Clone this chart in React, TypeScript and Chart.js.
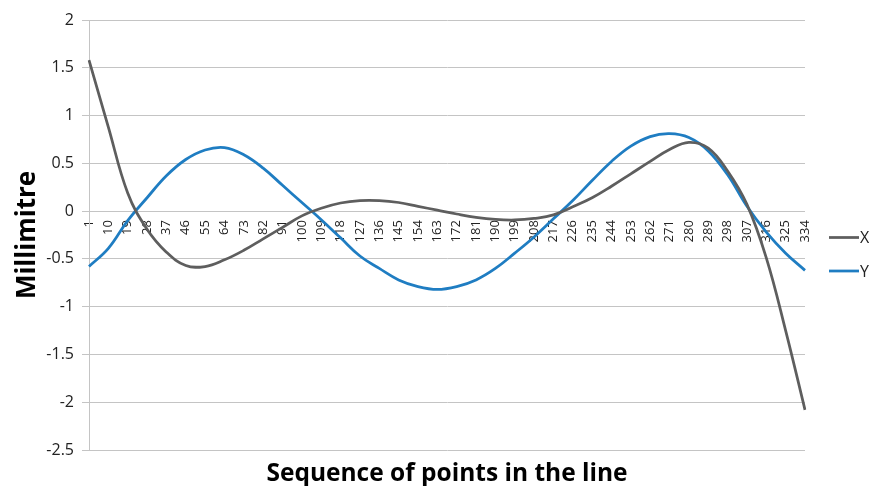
import { useEffect, useRef } from 'react';
import { Chart, registerables } from 'chart.js';

Chart.register(...registerables);

// Point numbers along the line (category axis), labelled every 9th point
const pointCount = 334;
const categories = Array.from({ length: pointCount }, (_, i) => String(i + 1));
const labelStep = 9;

// Point numbers at which the deviations were measured (1, 10, 19, ... 334)
const sampleAt = [1, 10, 19, 28, 37, 46, 55, 64, 73, 82, 91, 100, 109, 118, 127, 136, 145, 154, 163, 172, 181, 190, 199, 208, 217, 226, 235, 244, 253, 262, 271, 280, 289, 298, 307, 316, 325, 334];

// X deviation (mm)
const xValues = [1.58, 0.88, 0.19, -0.19, -0.43, -0.57, -0.58, -0.51, -0.41, -0.29, -0.17, -0.05, 0.03, 0.085, 0.11, 0.11, 0.09, 0.05, 0.01, -0.03, -0.065, -0.087, -0.093, -0.077, -0.04, 0.045, 0.14, 0.26, 0.39, 0.52, 0.645, 0.72, 0.66, 0.42, 0.07, -0.49, -1.25, -2.08];

// Y deviation (mm)
const yValues = [-0.58, -0.39, -0.1, 0.14, 0.37, 0.54, 0.64, 0.665, 0.59, 0.45, 0.27, 0.09, -0.09, -0.28, -0.47, -0.6, -0.72, -0.79, -0.82, -0.79, -0.72, -0.6, -0.44, -0.27, -0.08, 0.11, 0.32, 0.52, 0.68, 0.78, 0.81, 0.77, 0.63, 0.38, 0.05, -0.22, -0.44, -0.62];

const seriesNames = ['X', 'Y'];
const seriesColors = ['#5e5e5e', '#1f7dc2'];

const FONT = "'Open Sans', 'Noto Sans', sans-serif";

function spread(values: number[]): (number | null)[] {
  const out: (number | null)[] = categories.map(() => null);
  sampleAt.forEach((n, k) => {
    out[n - 1] = values[k];
  });
  return out;
}

const sideLegend = {
  id: 'sideLegend',
  afterDraw(chart: Chart) {
    const ctx = chart.ctx;
    const rows = [237.5, 271];
    ctx.save();
    seriesNames.forEach((name, i) => {
      const y = rows[i];
      ctx.strokeStyle = seriesColors[i];
      ctx.lineWidth = 2.75;
      ctx.beginPath();
      ctx.moveTo(829, y);
      ctx.lineTo(859, y);
      ctx.stroke();
      ctx.fillStyle = '#222';
      ctx.font = `16px ${FONT}`;
      ctx.textBaseline = 'middle';
      ctx.textAlign = 'left';
      ctx.fillText(name, 860, y + 1);
    });
    ctx.restore();
  },
};

const bottomTitle = {
  id: 'bottomTitle',
  afterDraw(chart: Chart) {
    const ctx = chart.ctx;
    const { left, right } = chart.chartArea;
    ctx.save();
    ctx.fillStyle = '#000';
    ctx.font = `bold 24.5px ${FONT}`;
    ctx.textAlign = 'center';
    ctx.textBaseline = 'alphabetic';
    ctx.fillText('Sequence of points in the line', (left + right) / 2, 481);
    ctx.restore();
  },
};

export default function App() {
  const canvasRef = useRef<HTMLCanvasElement | null>(null);

  useEffect(() => {
    if (!canvasRef.current) return;
    const line = (i: number, values: number[]) => ({
      label: seriesNames[i],
      data: spread(values),
      borderColor: seriesColors[i],
      backgroundColor: seriesColors[i],
      borderWidth: 2.75,
      pointRadius: 0,
      spanGaps: true,
      tension: 0.4,
    });
    const chart = new Chart(canvasRef.current, {
      type: 'line',
      data: {
        labels: categories,
        datasets: [line(0, xValues), line(1, yValues)],
      },
      options: {
        responsive: false,
        animation: false,
        layout: { padding: { top: 20, right: 64, bottom: 36, left: 0 } },
        plugins: {
          legend: { display: false },
          tooltip: { enabled: false },
        },
        scales: {
          x: {
            type: 'category',
            position: { y: 0 },
            grid: { display: false, drawTicks: false },
            border: { display: false },
            ticks: {
              autoSkip: false,
              minRotation: 90,
              maxRotation: 90,
              padding: 9,
              color: '#222',
              font: { family: FONT, size: 13 },
              callback: (_v: any, i: number) => (i % labelStep === 0 ? categories[i] : ''),
            },
          },
          y: {
            min: -2.5,
            max: 2,
            afterFit: (scale: any) => {
              scale.width = 89;
            },
            ticks: {
              stepSize: 0.5,
              padding: 8,
              color: '#222',
              font: { family: FONT, size: 16 },
              callback: (v: any) => String(v),
            },
            grid: { color: '#c4c4c4', lineWidth: 1, tickLength: 7 },
            border: { color: '#c4c4c4', width: 1 },
            title: {
              display: true,
              text: 'Millimitre',
              color: '#000',
              font: { family: FONT, size: 26, weight: 'bold' },
              padding: { top: 12, bottom: 0 },
            },
          },
        },
      },
      plugins: [sideLegend, bottomTitle],
    });
    return () => chart.destroy();
  }, []);

  return (
    <div style={{ position: 'fixed', left: 0, top: 0, width: 869, height: 486, overflow: 'hidden', background: '#fff' }}>
      <canvas ref={canvasRef} width={869} height={486} />
    </div>
  );
}
